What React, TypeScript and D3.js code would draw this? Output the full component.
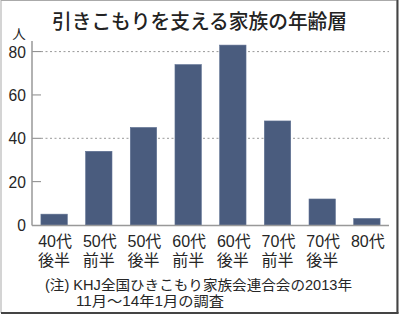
import React, { useEffect } from "react";
import * as d3 from "d3";

const categories: string[][] = [
  ["40代", "後半"],
  ["50代", "前半"],
  ["50代", "後半"],
  ["60代", "前半"],
  ["60代", "後半"],
  ["70代", "前半"],
  ["70代", "後半"],
  ["80代", ""],
];
const values: number[] = [5, 34, 45, 74, 83, 48, 12, 3];
const yTicks: number[] = [0, 20, 40, 60, 80];
const gridTicks: number[] = [40, 80];
const title = "引きこもりを支える家族の年齢層";
const unitLabel = "人";
const noteLines: string[] = [
  "(注) KHJ全国ひきこもり家族会連合会の2013年",
  "11月～14年1月の調査",
];

const W = 400;
const H = 315;
const FONT = "'Noto Sans CJK JP', 'Noto Sans', sans-serif";
const MIXFONT = "'Liberation Sans', 'Noto Sans CJK JP', sans-serif";
const NUMFONT = "'Liberation Sans', Arial, sans-serif";

export default function App() {
  useEffect(() => {
    document.body.style.margin = "0";
  }, []);

  const x = d3
    .scaleBand<number>()
    .domain(d3.range(categories.length))
    .range([32, 389])
    .paddingInner(0.41)
    .paddingOuter(0.2);
  const y = d3.scaleLinear().domain([0, 80]).range([225, 51.6]);
  const axisX = 32;
  const textColor = "#262626";
  const barColor = "#4a5c7e";

  return (
    <div style={{ position: "absolute", left: 0, top: 0 }}>
      <svg width={W} height={H} style={{ display: "block", background: "#fff" }}>
        {/* frame */}
        <rect x={1} y={0.5} width={396} height={312} fill="#fff" stroke="#aaa" strokeWidth={1} />
        <line x1={397.5} y1={0} x2={397.5} y2={313.5} stroke="#444" strokeWidth={2} />
        <line x1={1} y1={313} x2={398.5} y2={313} stroke="#444" strokeWidth={2} />

        {/* title */}
        <text
          x={199.5}
          y={29}
          textAnchor="middle"
          fontFamily={FONT}
          fontSize={20}
          fontWeight={500}
          fill="#222"
          textLength={295}
          lengthAdjust="spacingAndGlyphs"
        >
          {title}
        </text>

        {/* unit label */}
        <text x={19} y={38.5} textAnchor="middle" fontFamily={MIXFONT} fontSize={13.5} fill={textColor}>
          {unitLabel}
        </text>

        {/* gridlines */}
        {gridTicks.map((t) => (
          <line
            key={"g" + t}
            x1={axisX + 9}
            x2={389}
            y1={y(t)}
            y2={y(t)}
            stroke="#999"
            strokeWidth={1}
            strokeDasharray="2,2.5"
          />
        ))}

        {/* ticks and labels */}
        {yTicks.map((t) => (
          <g key={"t" + t}>
            {t > 0 && (
              <line x1={axisX} x2={axisX + 9} y1={y(t)} y2={y(t)} stroke="#888" strokeWidth={1} />
            )}
            <text
              x={26}
              y={y(t) + 6}
              textAnchor="end"
              fontFamily={NUMFONT}
              fontSize={17}
              fill={textColor}
              transform={`translate(26,0) scale(0.92,1) translate(-26,0)`}
            >
              {t}
            </text>
          </g>
        ))}

        {/* bars */}
        {values.map((v, i) => (
          <rect
            key={"b" + i}
            x={x(i)}
            y={y(v)}
            width={x.bandwidth()}
            height={y(0) - y(v)}
            fill={barColor}
            stroke="#5d6f91"
            strokeWidth={0.6}
          />
        ))}

        {/* axes */}
        <line x1={axisX} x2={axisX} y1={41} y2={225.5} stroke="#999" strokeWidth={1.5} />
        <line x1={axisX} x2={389} y1={225.5} y2={225.5} stroke="#999" strokeWidth={1.5} />

        {/* x labels */}
        {categories.map((c, i) => {
          const cx = (x(i) as number) + x.bandwidth() / 2 + 1;
          return (
            <g key={"l" + i}>
              <text x={cx} y={247} textAnchor="middle" fontFamily={MIXFONT} fontSize={16} fill={textColor}>
                {c[0]}
              </text>
              {c[1] && (
                <text x={cx - 1} y={265.5} textAnchor="middle" fontFamily={MIXFONT} fontSize={16} fill={textColor}>
                  {c[1]}
                </text>
              )}
            </g>
          );
        })}

        {/* note */}
        <text
          x={45}
          y={289.5}
          fontFamily={MIXFONT}
          fontSize={14}
          fill={textColor}
          textLength={307}
          lengthAdjust="spacingAndGlyphs"
        >
          {noteLines[0]}
        </text>
        <text
          x={76}
          y={305.5}
          fontFamily={MIXFONT}
          fontSize={14}
          fill={textColor}
          textLength={148}
          lengthAdjust="spacingAndGlyphs"
        >
          {noteLines[1]}
        </text>
      </svg>
    </div>
  );
}
